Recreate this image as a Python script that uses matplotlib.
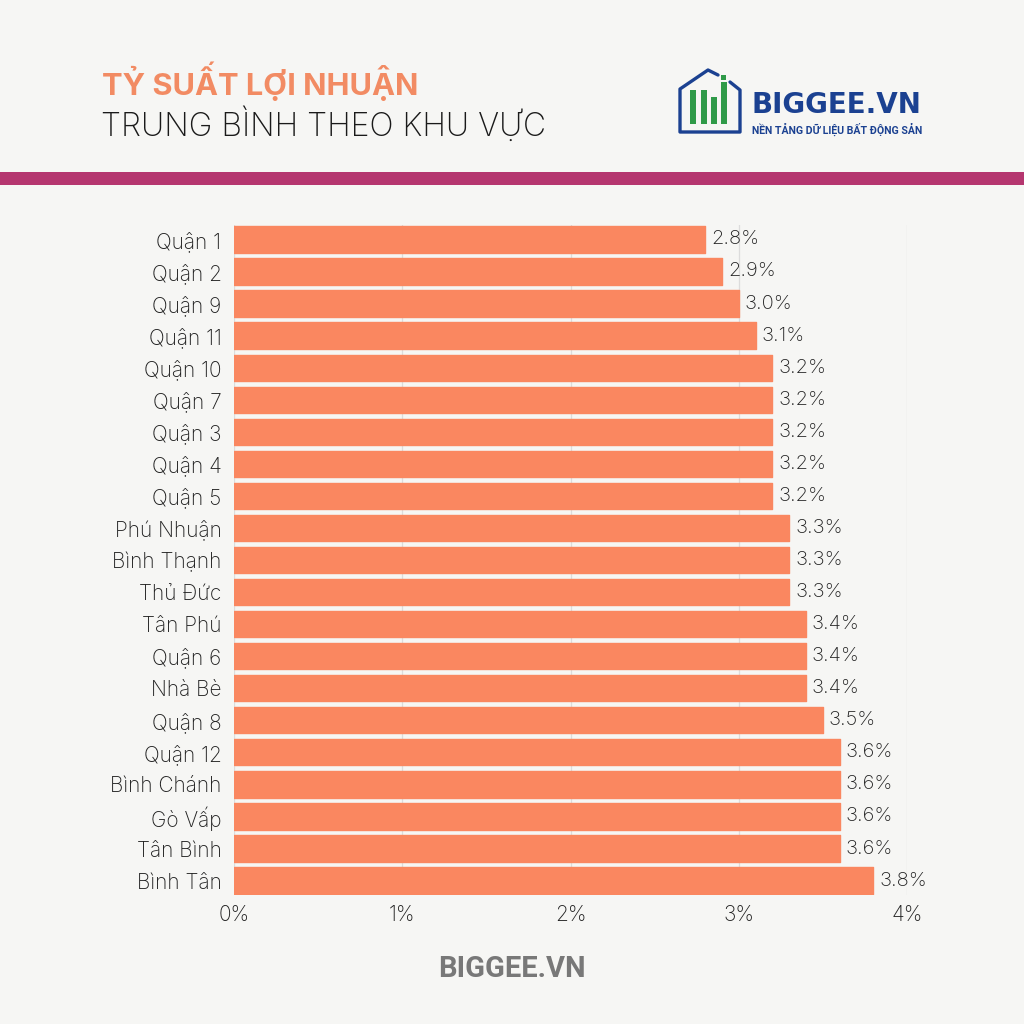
import matplotlib
matplotlib.use("Agg")
import matplotlib.pyplot as plt
from matplotlib.patches import Rectangle

categories = ["Quận 1", "Quận 2", "Quận 9", "Quận 11", "Quận 10", "Quận 7", "Quận 3",
              "Quận 4", "Quận 5", "Phú Nhuận", "Bình Thạnh", "Thủ Đức", "Tân Phú",
              "Quận 6", "Nhà Bè", "Quận 8", "Quận 12", "Bình Chánh", "Gò Vấp",
              "Tân Bình", "Bình Tân"]
values = [2.8, 2.9, 3.0, 3.1, 3.2, 3.2, 3.2, 3.2, 3.2, 3.3, 3.3, 3.3, 3.4, 3.4, 3.4,
          3.5, 3.6, 3.6, 3.6, 3.6, 3.8]
x_ticks = [0, 1, 2, 3, 4]
x_tick_labels = ["0%", "1%", "2%", "3%", "4%"]
title_1 = "TỶ SUẤT LỢI NHUẬN"
title_2 = "TRUNG BÌNH THEO KHU VỰC"
footer = "BIGGEE.VN"

BG = "#f6f6f4"
BAR = "#fa8760"
FONT = ["Inter", "DejaVu Sans"]

fig = plt.figure(figsize=(10.24, 10.24), dpi=100, facecolor=BG)

# decoration layer in pixel coordinates
deco = fig.add_axes([0, 0, 1, 1])
deco.set_xlim(0, 1024)
deco.set_ylim(1024, 0)
deco.axis("off")
deco.set_zorder(0)

deco.add_patch(Rectangle((0, 172), 1024, 13, color="#b5366f", lw=0))

deco.text(102, 81, title_1, fontsize=22.2, fontweight="bold", color="#f28b63",
          family=FONT, va="center", ha="left")
deco.text(101, 125, title_2, fontsize=23, fontweight="light", color="#1a1a1a",
          family=FONT, va="center", ha="left")

# logo: house outline
blue = "#1b4191"
green = "#2f9a48"
roof_left = [(718, 75), (708, 70), (680, 89), (680, 132), (740, 132), (740, 90), (730, 82)]
deco.add_line(plt.Line2D([p[0] for p in roof_left], [p[1] for p in roof_left],
                         color=blue, lw=2.4, solid_joinstyle="round",
                         solid_capstyle="round"))
for x0, top in [(690, 90), (700.5, 90), (710.5, 97), (720.5, 82)]:
    deco.add_patch(Rectangle((x0, top), 6, 124 - top, color=green, lw=0))
deco.add_patch(Rectangle((721, 75), 5, 5, color=green, lw=0))
deco.text(751, 105, "BIGGEE.VN", fontsize=20, fontweight="bold", color=blue,
          family=["DejaVu Sans"], va="center", ha="left")
deco.text(752, 129, "NỀN TẢNG DỮ LIỆU BẤT ĐỘNG SẢN", fontsize=7.6, fontweight="bold",
          color=blue, family=["Roboto", "DejaVu Sans"], va="center", ha="left")

deco.text(512, 969, footer, fontsize=21, fontweight="bold", color="#787878",
          family=["Roboto", "DejaVu Sans"], va="center", ha="center")

# main chart
ax = fig.add_axes([234 / 1024, 1 - 895 / 1024, (907 - 234) / 1024, (895 - 225) / 1024])
ax.set_facecolor("none")
ax.set_zorder(1)
y = list(range(len(categories)))
ax.barh(y, values, height=0.82, color=BAR, edgecolor=BAR, lw=1.0,
        joinstyle="round", zorder=3)
for yi, v in zip(y, values):
    ax.text(v + 0.035, yi, f"{v:.1f}%", va="center", ha="left", fontsize=14.5,
            color="#222222", family=FONT, fontweight="light")
ax.set_xlim(0, 4)
ax.set_ylim(20.45, -0.45)
ax.set_yticks(y)
ax.set_yticklabels(categories, family=FONT, fontsize=15, color="#222222",
                   fontweight="light")
ax.set_xticks(x_ticks)
ax.set_xticklabels(x_tick_labels, family=FONT, fontsize=15, color="#222222",
                   fontweight="light")
ax.tick_params(length=0, pad=9)
ax.tick_params(axis="x", pad=7)
ax.grid(axis="x", color="#dcdcdc", lw=0.9, zorder=0)
for s in ax.spines.values():
    s.set_visible(False)

fig.savefig("out.png", dpi=100, facecolor=BG)
